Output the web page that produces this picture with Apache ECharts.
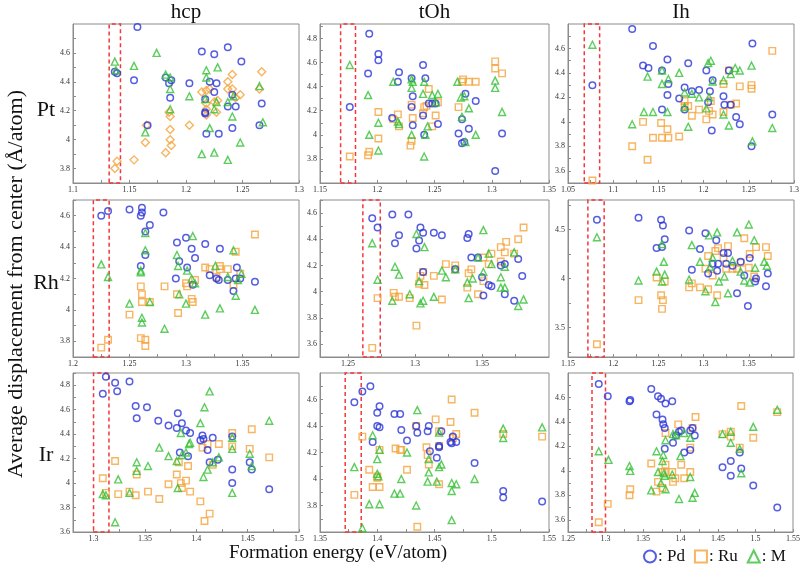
<!DOCTYPE html>
<html><head><meta charset="utf-8">
<script src="https://cdn.jsdelivr.net/npm/echarts@6/dist/echarts.min.js"></script>
<style>html,body{margin:0;padding:0;background:#fff}#c{width:803px;height:574px}</style>
</head><body><div id="c"></div>
<script>
// ---------------- DATA ----------------
const rowNames = ['Pt', 'Rh', 'Ir'];
const colNames = ['hcp', 'tOh', 'Ih'];
const legendNames = ['Pd', 'Ru', 'M'];

// x/y axis ranges [min,max] per panel
const xRange_Pt_hcp = [1.1, 1.3],  yRange_Pt_hcp = [3.7, 4.8];
const xRange_Pt_tOh = [1.15, 1.35], yRange_Pt_tOh = [3.6, 4.92];
const xRange_Pt_Ih  = [1.05, 1.3], yRange_Pt_Ih  = [3.5, 4.8];
const xRange_Rh_hcp = [1.2, 1.4],  yRange_Rh_hcp = [3.7, 4.7];
const xRange_Rh_tOh = [1.229, 1.4], yRange_Rh_tOh = [3.5, 4.7];
const xRange_Rh_Ih  = [1.15, 1.4], yRange_Rh_Ih  = [3.2, 4.8];
const xRange_Ir_hcp = [1.28, 1.5], yRange_Ir_hcp = [3.6, 4.9];
const xRange_Ir_tOh = [1.35, 1.55], yRange_Ir_tOh = [3.6, 4.8];
const xRange_Ir_Ih  = [1.25, 1.55], yRange_Ir_Ih  = [3.5, 4.8];

// tick labels
const xTicks_Pt_hcp = [1.1, 1.15, 1.2, 1.25, 1.3];
const yTicks_Pt_hcp = [3.8, 4, 4.2, 4.4, 4.6];
const xTicks_Pt_tOh = [1.15, 1.2, 1.25, 1.3, 1.35];
const yTicks_Pt_tOh = [3.8, 4, 4.2, 4.4, 4.6, 4.8];
const xTicks_Pt_Ih  = [1.05, 1.1, 1.15, 1.2, 1.25, 1.3];
const yTicks_Pt_Ih  = [3.6, 3.8, 4, 4.2, 4.4, 4.6];
const xTicks_Rh_hcp = [1.2, 1.25, 1.3, 1.35];
const yTicks_Rh_hcp = [3.8, 4, 4.2, 4.4, 4.6];
const xTicks_Rh_tOh = [1.25, 1.3, 1.35];
const yTicks_Rh_tOh = [3.6, 3.8, 4, 4.2, 4.4, 4.6];
const xTicks_Rh_Ih  = [1.15, 1.2, 1.25, 1.3, 1.35];
const yTicks_Rh_Ih  = [3.5, 4, 4.5];
const xTicks_Ir_hcp = [1.3, 1.35, 1.4, 1.45, 1.5];
const yTicks_Ir_hcp = [3.6, 3.8, 4, 4.2, 4.4, 4.6, 4.8];
const xTicks_Ir_tOh = [1.35, 1.4, 1.45, 1.5, 1.55];
const yTicks_Ir_tOh = [3.8, 4, 4.2, 4.4, 4.6];
const xTicks_Ir_Ih  = [1.25, 1.3, 1.35, 1.4, 1.45, 1.5, 1.55];
const yTicks_Ir_Ih  = [3.6, 3.8, 4, 4.2, 4.4, 4.6];

// red dashed bands [x0, x1]
const band_Pt_hcp = [1.132, 1.142];
const band_Pt_tOh = [1.168, 1.181];
const band_Pt_Ih  = [1.068, 1.085];
const band_Rh_hcp = [1.218, 1.232];
const band_Rh_tOh = [1.261, 1.274];
const band_Rh_Ih  = [1.172, 1.19];
const band_Ir_hcp = [1.3, 1.315];
const band_Ir_tOh = [1.372, 1.386];
const band_Ir_Ih  = [1.282, 1.3];

// ---- Pt / hcp ----
const Pt_hcp_Pd = [[1.157,4.78],[1.137,4.47],[1.139,4.46],[1.154,4.41],[1.166,4.10],[1.182,4.43],[1.185,4.39],[1.187,4.41],[1.186,4.29],[1.203,4.39],[1.214,4.61],[1.217,4.28],[1.217,4.19],[1.217,4.18],[1.218,4.04],[1.221,4.40],[1.225,4.59],[1.225,4.33],[1.227,4.39],[1.229,4.04],[1.237,4.64],[1.237,4.23],[1.241,4.31],[1.241,4.08],[1.244,4.23],[1.249,4.54],[1.265,4.10],[1.267,4.25]];
const Pt_hcp_Ru = [[1.139,3.85],[1.137,3.80],[1.154,3.86],[1.164,3.98],[1.165,4.10],[1.182,3.91],[1.185,4.19],[1.186,4.16],[1.186,4.07],[1.186,4.00],[1.187,3.96],[1.203,4.10],[1.214,4.33],[1.218,4.34],[1.221,4.35],[1.218,4.25],[1.218,4.21],[1.218,4.17],[1.225,4.26],[1.227,4.19],[1.228,4.27],[1.237,4.40],[1.237,4.35],[1.241,4.45],[1.241,4.35],[1.244,4.29],[1.248,4.31],[1.265,4.35],[1.267,4.47]];
const Pt_hcp_M  = [[1.137,4.54],[1.138,4.48],[1.154,4.51],[1.174,4.60],[1.164,4.05],[1.182,4.45],[1.186,4.43],[1.186,4.35],[1.186,4.21],[1.203,4.30],[1.214,3.90],[1.218,4.48],[1.218,4.43],[1.217,4.28],[1.221,4.08],[1.225,3.91],[1.225,4.21],[1.227,4.26],[1.228,4.50],[1.237,4.26],[1.237,3.86],[1.241,4.16],[1.242,4.30],[1.248,3.98],[1.265,4.37],[1.268,4.12]];

// ---- Pt / tOh ----
const Pt_tOh_Pd = [[1.193,4.84],[1.192,4.51],[1.201,4.67],[1.201,4.62],[1.176,4.23],[1.213,4.14],[1.218,4.44],[1.219,4.52],[1.230,4.47],[1.231,4.32],[1.230,4.23],[1.231,4.08],[1.240,4.58],[1.242,4.47],[1.240,4.16],[1.241,4.00],[1.245,4.26],[1.248,4.26],[1.251,4.26],[1.253,4.09],[1.271,4.01],[1.274,4.13],[1.274,3.93],[1.276,3.94],[1.277,4.34],[1.280,4.05],[1.286,4.28],[1.303,3.70],[1.309,4.01]];
const Pt_tOh_Ru = [[1.176,3.82],[1.192,3.83],[1.193,3.86],[1.201,4.19],[1.201,3.97],[1.214,4.13],[1.218,4.17],[1.219,4.07],[1.230,4.25],[1.231,4.14],[1.230,3.95],[1.229,3.91],[1.240,4.18],[1.241,4.23],[1.243,4.24],[1.245,4.38],[1.248,4.07],[1.251,4.16],[1.253,4.27],[1.271,4.23],[1.274,4.44],[1.275,4.46],[1.280,4.44],[1.286,4.44],[1.303,4.61],[1.303,4.55],[1.309,4.51]];
const Pt_tOh_M  = [[1.176,4.58],[1.192,4.33],[1.193,4.00],[1.201,4.10],[1.201,3.87],[1.214,4.44],[1.218,4.11],[1.219,4.09],[1.230,4.46],[1.230,4.39],[1.231,4.44],[1.230,4.00],[1.241,4.44],[1.241,3.82],[1.240,4.34],[1.242,4.00],[1.244,4.07],[1.248,4.33],[1.253,4.34],[1.251,4.27],[1.270,4.44],[1.273,4.31],[1.276,4.32],[1.274,4.15],[1.277,3.94],[1.280,4.22],[1.286,4.00],[1.303,4.45],[1.303,4.39],[1.309,4.19]];

// ---- Pt / Ih ----
const Pt_Ih_Pd = [[1.121,4.76],[1.144,4.62],[1.133,4.46],[1.139,4.44],[1.077,4.30],[1.154,4.42],[1.160,4.51],[1.161,4.31],[1.160,4.22],[1.154,4.10],[1.183,4.48],[1.173,4.19],[1.179,4.28],[1.179,4.10],[1.187,4.25],[1.195,4.26],[1.203,4.42],[1.205,4.16],[1.207,4.25],[1.210,4.34],[1.209,3.93],[1.222,4.21],[1.223,4.14],[1.228,4.42],[1.230,4.14],[1.236,4.04],[1.240,3.98],[1.254,4.64],[1.253,3.80],[1.276,4.06]];
const Pt_Ih_Ru = [[1.077,3.52],[1.121,3.80],[1.133,4.00],[1.138,3.69],[1.144,3.87],[1.153,3.99],[1.154,3.87],[1.160,3.94],[1.161,3.87],[1.173,3.88],[1.179,4.17],[1.179,4.13],[1.183,4.13],[1.187,4.05],[1.195,4.10],[1.203,4.02],[1.206,4.09],[1.208,4.17],[1.210,4.06],[1.222,4.31],[1.222,4.08],[1.228,4.42],[1.230,4.14],[1.236,4.15],[1.240,4.29],[1.253,4.30],[1.253,4.27],[1.276,4.58]];
const Pt_Ih_M  = [[1.077,4.63],[1.121,3.98],[1.134,4.08],[1.138,4.37],[1.144,4.08],[1.154,4.42],[1.154,4.31],[1.161,4.35],[1.160,4.08],[1.173,4.40],[1.179,4.24],[1.179,4.12],[1.183,3.96],[1.187,4.23],[1.195,4.20],[1.203,4.11],[1.205,4.48],[1.208,4.50],[1.206,4.20],[1.210,4.33],[1.222,4.34],[1.222,4.06],[1.228,3.97],[1.230,4.39],[1.235,4.44],[1.240,4.42],[1.253,4.46],[1.254,3.84],[1.276,3.95]];

// ---- Rh / hcp ----
const Rh_hcp_Pd = [[1.225,4.60],[1.231,4.63],[1.250,4.64],[1.261,4.65],[1.261,4.62],[1.260,4.60],[1.280,4.62],[1.268,4.54],[1.264,4.50],[1.264,4.35],[1.260,4.28],[1.292,4.43],[1.300,4.46],[1.305,4.39],[1.294,4.31],[1.308,4.33],[1.301,4.27],[1.291,4.20],[1.306,4.16],[1.317,4.42],[1.330,4.39],[1.321,4.22],[1.327,4.20],[1.329,4.19],[1.337,4.19],[1.342,4.12],[1.345,4.27],[1.344,4.20],[1.348,4.20],[1.361,4.18]];
const Rh_hcp_Ru = [[1.225,3.76],[1.231,3.81],[1.250,3.97],[1.260,4.15],[1.261,4.10],[1.261,4.05],[1.260,3.82],[1.264,3.81],[1.264,3.77],[1.268,4.05],[1.281,4.15],[1.292,4.10],[1.293,3.98],[1.300,4.17],[1.301,4.15],[1.305,4.07],[1.306,4.05],[1.308,4.19],[1.317,4.27],[1.321,4.26],[1.327,4.21],[1.330,4.28],[1.330,4.26],[1.337,4.26],[1.342,4.16],[1.344,4.37],[1.348,4.23],[1.361,4.48]];
const Rh_hcp_M  = [[1.225,4.29],[1.231,4.21],[1.250,4.04],[1.260,4.24],[1.260,4.25],[1.261,3.95],[1.261,3.92],[1.264,4.38],[1.264,4.49],[1.268,4.05],[1.281,3.88],[1.292,4.35],[1.293,4.28],[1.294,4.10],[1.300,4.04],[1.301,4.25],[1.305,4.20],[1.308,4.17],[1.306,4.47],[1.317,3.97],[1.326,4.28],[1.330,4.01],[1.337,4.21],[1.342,4.38],[1.344,4.09],[1.346,4.19],[1.349,4.23],[1.361,4.00]];

// ---- Rh / tOh ----
const Rh_tOh_Pd = [[1.268,4.56],[1.272,4.49],[1.283,4.59],[1.295,4.59],[1.288,4.43],[1.285,4.37],[1.304,4.49],[1.306,4.45],[1.303,4.39],[1.301,4.33],[1.314,4.45],[1.320,4.43],[1.306,4.15],[1.330,4.17],[1.339,4.41],[1.340,4.44],[1.342,4.26],[1.347,4.26],[1.350,4.11],[1.351,3.97],[1.355,4.05],[1.357,4.04],[1.364,4.20],[1.367,4.21],[1.367,3.98],[1.374,3.93],[1.377,4.25],[1.380,4.12]];
const Rh_tOh_Ru = [[1.268,3.57],[1.272,3.95],[1.284,3.99],[1.285,3.96],[1.288,3.96],[1.296,3.95],[1.301,3.74],[1.303,4.06],[1.304,4.12],[1.306,4.15],[1.307,4.05],[1.314,4.12],[1.320,3.94],[1.323,4.21],[1.330,4.20],[1.330,4.17],[1.339,4.03],[1.340,4.14],[1.342,4.17],[1.347,3.98],[1.351,4.26],[1.351,4.08],[1.355,4.21],[1.357,4.29],[1.364,4.34],[1.364,4.23],[1.367,4.30],[1.368,4.38],[1.374,4.29],[1.377,4.40],[1.381,4.49]];
const Rh_tOh_M  = [[1.268,4.37],[1.272,4.09],[1.283,3.93],[1.285,4.19],[1.288,4.13],[1.296,3.98],[1.301,4.44],[1.307,4.34],[1.303,4.08],[1.304,3.91],[1.306,3.93],[1.314,3.96],[1.320,4.16],[1.323,4.11],[1.330,4.17],[1.339,4.07],[1.343,4.10],[1.340,3.95],[1.347,4.26],[1.351,4.47],[1.351,4.15],[1.355,4.29],[1.357,4.21],[1.364,4.11],[1.364,4.03],[1.367,4.03],[1.367,4.19],[1.374,4.30],[1.377,3.89],[1.381,3.94]];

// ---- Rh / Ih ----
const Rh_Ih_Pd = [[1.182,4.60],[1.228,4.62],[1.253,4.60],[1.255,4.54],[1.257,4.40],[1.248,4.31],[1.254,4.32],[1.284,4.49],[1.302,4.46],[1.314,4.39],[1.296,4.30],[1.287,4.09],[1.322,4.26],[1.327,4.26],[1.310,4.15],[1.316,4.15],[1.325,4.15],[1.332,4.13],[1.315,4.08],[1.305,4.05],[1.341,4.17],[1.351,4.21],[1.345,4.03],[1.337,3.85],[1.349,3.72],[1.357,3.97],[1.358,4.00],[1.369,3.92],[1.371,4.05]];
const Rh_Ih_Ru = [[1.182,3.33],[1.228,3.78],[1.248,4.01],[1.253,3.83],[1.255,3.78],[1.257,3.97],[1.254,3.69],[1.284,3.91],[1.287,3.95],[1.296,3.91],[1.302,4.10],[1.305,3.89],[1.305,4.23],[1.310,4.03],[1.313,4.28],[1.315,3.83],[1.316,4.31],[1.322,4.21],[1.325,4.10],[1.327,4.33],[1.332,4.10],[1.337,4.10],[1.341,4.16],[1.345,4.41],[1.351,4.25],[1.350,4.11],[1.356,4.02],[1.358,4.32],[1.369,4.32],[1.371,4.23]];
const Rh_Ih_M  = [[1.182,4.42],[1.228,3.98],[1.248,4.07],[1.254,4.35],[1.256,4.17],[1.257,4.04],[1.254,3.97],[1.284,3.99],[1.287,4.34],[1.296,4.17],[1.302,3.87],[1.306,4.44],[1.310,4.21],[1.307,4.12],[1.315,4.47],[1.317,3.97],[1.313,3.76],[1.323,4.02],[1.327,3.85],[1.332,4.18],[1.337,4.47],[1.341,4.07],[1.345,3.98],[1.350,4.55],[1.351,3.96],[1.356,4.39],[1.357,4.11],[1.367,4.17],[1.370,4.13]];

// ---- Ir / hcp ----
const Ir_hcp_Pd = [[1.309,4.73],[1.312,4.87],[1.321,4.82],[1.323,4.75],[1.335,4.83],[1.341,4.63],[1.352,4.62],[1.342,4.53],[1.363,4.51],[1.373,4.47],[1.382,4.57],[1.381,4.45],[1.386,4.49],[1.390,4.43],[1.394,4.41],[1.384,4.25],[1.392,4.22],[1.406,4.39],[1.404,4.35],[1.407,4.36],[1.416,4.37],[1.411,4.27],[1.413,4.17],[1.421,4.19],[1.435,4.38],[1.435,4.11],[1.435,4.00],[1.452,4.17],[1.454,4.11],[1.471,3.95]];
const Ir_hcp_Ru = [[1.309,4.04],[1.312,3.92],[1.321,4.18],[1.324,3.91],[1.335,3.93],[1.341,3.90],[1.342,4.07],[1.353,3.93],[1.364,3.87],[1.373,3.99],[1.381,4.07],[1.383,4.17],[1.385,4.00],[1.386,3.96],[1.390,4.02],[1.392,4.14],[1.394,3.93],[1.404,3.85],[1.406,4.29],[1.408,3.69],[1.411,4.32],[1.413,3.75],[1.416,4.15],[1.422,4.32],[1.435,4.41],[1.435,4.30],[1.452,4.28],[1.454,4.44],[1.471,4.21]];
const Ir_hcp_M  = [[1.309,3.91],[1.312,3.90],[1.324,4.03],[1.321,3.68],[1.335,3.92],[1.342,4.17],[1.342,4.10],[1.353,4.14],[1.364,4.29],[1.373,4.22],[1.381,4.18],[1.382,3.96],[1.385,4.41],[1.386,4.23],[1.390,4.25],[1.393,4.32],[1.394,4.33],[1.404,4.49],[1.407,4.05],[1.408,4.62],[1.411,4.11],[1.413,4.75],[1.416,4.17],[1.422,4.21],[1.435,4.37],[1.435,4.28],[1.435,3.92],[1.452,4.24],[1.454,4.14],[1.471,4.51]];

// ---- Ir / tOh ----
const Ir_tOh_Pd = [[1.380,4.58],[1.387,4.66],[1.394,4.70],[1.400,4.50],[1.402,4.55],[1.400,4.40],[1.402,4.39],[1.396,4.28],[1.415,4.49],[1.420,4.49],[1.421,4.37],[1.426,4.29],[1.434,4.40],[1.435,4.35],[1.444,4.36],[1.445,4.40],[1.446,4.21],[1.452,4.16],[1.454,4.25],[1.454,4.24],[1.456,4.36],[1.464,4.28],[1.465,4.27],[1.466,4.32],[1.469,4.28],[1.485,4.12],[1.510,3.91],[1.510,3.86],[1.544,3.83]];
const Ir_tOh_Ru = [[1.380,3.88],[1.387,4.32],[1.393,4.07],[1.396,3.94],[1.400,4.02],[1.400,4.01],[1.402,3.94],[1.402,4.22],[1.416,4.23],[1.420,4.22],[1.421,4.22],[1.426,4.07],[1.434,4.40],[1.435,3.64],[1.443,4.24],[1.444,4.18],[1.445,4.11],[1.451,4.45],[1.454,4.36],[1.454,4.25],[1.454,3.96],[1.464,4.43],[1.465,4.60],[1.466,4.31],[1.469,4.34],[1.485,4.50],[1.510,4.34],[1.544,4.32]];
const Ir_tOh_M  = [[1.380,4.09],[1.387,3.63],[1.393,3.81],[1.396,4.33],[1.400,4.15],[1.400,4.04],[1.402,4.22],[1.402,3.81],[1.401,4.02],[1.415,3.89],[1.420,3.89],[1.421,4.00],[1.426,4.20],[1.434,3.80],[1.435,4.52],[1.444,3.98],[1.445,4.05],[1.445,4.15],[1.452,3.98],[1.454,4.09],[1.454,4.35],[1.456,4.11],[1.465,3.97],[1.465,3.91],[1.465,3.69],[1.469,3.96],[1.485,4.00],[1.510,4.38],[1.510,4.31],[1.544,4.39]];

// ---- Ir / Ih ----
const Ir_Ih_Pd = [[1.291,4.71],[1.303,4.61],[1.333,4.58],[1.332,4.57],[1.361,4.67],[1.370,4.61],[1.374,4.59],[1.380,4.55],[1.389,4.57],[1.368,4.46],[1.376,4.42],[1.377,4.38],[1.379,4.35],[1.379,4.18],[1.390,4.23],[1.394,4.29],[1.398,4.32],[1.401,4.33],[1.405,4.15],[1.413,4.33],[1.416,4.35],[1.419,4.29],[1.413,4.17],[1.456,4.03],[1.467,4.08],[1.467,3.96],[1.479,4.15],[1.481,4.02],[1.497,3.88],[1.529,3.70]];
const Ir_Ih_Ru = [[1.291,3.58],[1.303,3.73],[1.332,3.80],[1.333,3.85],[1.361,4.06],[1.368,3.83],[1.370,3.91],[1.376,3.99],[1.376,3.86],[1.379,3.99],[1.380,4.05],[1.380,4.31],[1.389,3.99],[1.390,3.91],[1.393,3.94],[1.397,4.38],[1.401,4.05],[1.405,3.94],[1.413,4.19],[1.413,3.99],[1.416,4.35],[1.420,4.44],[1.456,4.30],[1.467,4.32],[1.467,4.28],[1.479,4.19],[1.481,4.53],[1.497,4.27],[1.529,4.48]];
const Ir_Ih_M  = [[1.291,4.16],[1.304,4.09],[1.332,4.04],[1.333,4.00],[1.361,3.84],[1.368,4.16],[1.370,3.99],[1.374,3.90],[1.377,4.13],[1.376,4.08],[1.380,4.25],[1.378,3.98],[1.379,3.96],[1.380,3.85],[1.389,3.97],[1.390,4.30],[1.394,4.29],[1.398,3.77],[1.400,4.12],[1.405,4.31],[1.413,4.27],[1.413,3.95],[1.416,3.78],[1.419,3.82],[1.456,4.30],[1.467,4.32],[1.467,4.23],[1.479,4.18],[1.481,3.98],[1.497,4.36],[1.529,4.50]];

// ---------------- LAYOUT / STYLE ----------------
const FONT = '"Liberation Serif","DejaVu Serif",serif';
const COL_BLUE = '#2a35d8', COL_ORANGE = '#f5a33a', COL_GREEN = '#35c035', COL_RED = '#f2383c';
const colBox = [[73, 226], [320, 229], [568, 226]];
const rowBox = [[24, 159], [200, 157], [373, 159]];

const panels = [
  {r:0,c:0,xr:xRange_Pt_hcp,yr:yRange_Pt_hcp,xt:xTicks_Pt_hcp,yt:yTicks_Pt_hcp,band:band_Pt_hcp,Pd:Pt_hcp_Pd,Ru:Pt_hcp_Ru,M:Pt_hcp_M,ruSym:'diamond'},
  {r:0,c:1,xr:xRange_Pt_tOh,yr:yRange_Pt_tOh,xt:xTicks_Pt_tOh,yt:yTicks_Pt_tOh,band:band_Pt_tOh,Pd:Pt_tOh_Pd,Ru:Pt_tOh_Ru,M:Pt_tOh_M},
  {r:0,c:2,xr:xRange_Pt_Ih, yr:yRange_Pt_Ih, xt:xTicks_Pt_Ih, yt:yTicks_Pt_Ih, band:band_Pt_Ih, Pd:Pt_Ih_Pd, Ru:Pt_Ih_Ru, M:Pt_Ih_M},
  {r:1,c:0,xr:xRange_Rh_hcp,yr:yRange_Rh_hcp,xt:xTicks_Rh_hcp,yt:yTicks_Rh_hcp,band:band_Rh_hcp,Pd:Rh_hcp_Pd,Ru:Rh_hcp_Ru,M:Rh_hcp_M},
  {r:1,c:1,xr:xRange_Rh_tOh,yr:yRange_Rh_tOh,xt:xTicks_Rh_tOh,yt:yTicks_Rh_tOh,band:band_Rh_tOh,Pd:Rh_tOh_Pd,Ru:Rh_tOh_Ru,M:Rh_tOh_M},
  {r:1,c:2,xr:xRange_Rh_Ih, yr:yRange_Rh_Ih, xt:xTicks_Rh_Ih, yt:yTicks_Rh_Ih, band:band_Rh_Ih, Pd:Rh_Ih_Pd, Ru:Rh_Ih_Ru, M:Rh_Ih_M},
  {r:2,c:0,xr:xRange_Ir_hcp,yr:yRange_Ir_hcp,xt:xTicks_Ir_hcp,yt:yTicks_Ir_hcp,band:band_Ir_hcp,Pd:Ir_hcp_Pd,Ru:Ir_hcp_Ru,M:Ir_hcp_M},
  {r:2,c:1,xr:xRange_Ir_tOh,yr:yRange_Ir_tOh,xt:xTicks_Ir_tOh,yt:yTicks_Ir_tOh,band:band_Ir_tOh,Pd:Ir_tOh_Pd,Ru:Ir_tOh_Ru,M:Ir_tOh_M},
  {r:2,c:2,xr:xRange_Ir_Ih, yr:yRange_Ir_Ih, xt:xTicks_Ir_Ih, yt:yTicks_Ir_Ih, band:band_Ir_Ih, Pd:Ir_Ih_Pd, Ru:Ir_Ih_Ru, M:Ir_Ih_M}
];

function withMinor(ticks, lo, hi) {
  const out = ticks.slice();
  const step = ticks.length > 1 ? ticks[1] - ticks[0] : 0.1;
  const first = ticks[0] - step / 2;
  for (let v = first; v <= hi + 1e-9; v += step) {
    if (v >= lo - 1e-9) out.push(+v.toFixed(4));
  }
  return out.filter(v => v >= lo - 1e-9 && v <= hi + 1e-9);
}
const fmt = v => String(+(+v).toFixed(3));

const grids = [], xAxes = [], yAxes = [], series = [];
panels.forEach((p, i) => {
  grids.push({left: colBox[p.c][0], width: colBox[p.c][1], top: rowBox[p.r][0], height: rowBox[p.r][1],
    show: true, borderColor: '#8c8c8c', borderWidth: 1, backgroundColor: 'transparent'});
  const axCommon = {
    axisLine: {show: true, onZero: false, lineStyle: {color: '#8c8c8c', width: 1}},
    splitLine: {show: false},
    axisLabel: {fontFamily: FONT, fontSize: 8, color: '#333', margin: 3, formatter: fmt, showMinLabel: true, showMaxLabel: true},
  };
  xAxes.push(Object.assign({}, axCommon, {
    type: 'value', gridIndex: i, min: p.xr[0], max: p.xr[1],
    axisLabel: Object.assign({}, axCommon.axisLabel, {customValues: p.xt}),
    axisTick: {show: true, inside: true, length: 3, lineStyle: {color: '#8c8c8c'}, customValues: withMinor(p.xt, p.xr[0], p.xr[1])}
  }));
  yAxes.push(Object.assign({}, axCommon, {
    type: 'value', gridIndex: i, min: p.yr[0], max: p.yr[1],
    axisLabel: Object.assign({}, axCommon.axisLabel, {customValues: p.yt}),
    axisTick: {show: true, inside: true, length: 3, lineStyle: {color: '#8c8c8c'}, customValues: withMinor(p.yt, p.yr[0], p.yr[1])}
  }));
  const base = {type: 'scatter', xAxisIndex: i, yAxisIndex: i, silent: true, animation: false};
  series.push(Object.assign({}, base, {
    name: 'Ru', data: p.Ru, symbol: p.ruSym || 'rect', symbolSize: p.ruSym ? 8 : 6.5,
    itemStyle: {color: 'rgba(0,0,0,0)', borderColor: COL_ORANGE, borderWidth: 1.4}
  }));
  series.push(Object.assign({}, base, {
    name: 'Pd', data: p.Pd, symbol: 'circle', symbolSize: 6.5,
    itemStyle: {color: 'rgba(0,0,0,0)', borderColor: COL_BLUE, borderWidth: 1.5},
    markArea: {silent: true, itemStyle: {color: 'rgba(0,0,0,0)', borderColor: COL_RED, borderWidth: 1.5, borderType: [4, 3]},
      data: [[{xAxis: p.band[0], yAxis: p.yr[0]}, {xAxis: p.band[1], yAxis: p.yr[1]}]]}
  }));
  series.push(Object.assign({}, base, {
    name: 'M', data: p.M, symbol: 'triangle', symbolSize: 7,
    itemStyle: {color: 'rgba(0,0,0,0)', borderColor: COL_GREEN, borderWidth: 1.4}
  }));
});

const graphics = [];
colNames.forEach((t, c) => graphics.push({type: 'text', x: colBox[c][0] + colBox[c][1] / 2, y: 12,
  style: {text: t, font: '21px ' + FONT, fill: '#111', textAlign: 'center', textVerticalAlign: 'middle'}}));
const rowY = [110, 283, 455];
rowNames.forEach((t, r) => graphics.push({type: 'text', x: 46, y: rowY[r],
  style: {text: t, font: '22px ' + FONT, fill: '#111', textAlign: 'center', textVerticalAlign: 'middle'}}));
graphics.push({type: 'text', x: 16, y: 284, rotation: Math.PI / 2,
  style: {text: 'Average displacement from center (Å/atom)', font: '22px ' + FONT, fill: '#111', textAlign: 'center', textVerticalAlign: 'middle'}});
graphics.push({type: 'text', x: 338, y: 553,
  style: {text: 'Formation energy (eV/atom)', font: '19px ' + FONT, fill: '#111', textAlign: 'center', textVerticalAlign: 'middle'}});

const chart = echarts.init(document.getElementById('c'), null, {renderer: 'canvas'});
chart.setOption({
  animation: false,
  backgroundColor: '#fff',
  grid: grids, xAxis: xAxes, yAxis: yAxes, series: series,
  graphic: graphics,
  legend: {
    left: 638, top: 543, itemWidth: 12, itemHeight: 12, itemGap: 9, selectedMode: false,
    formatter: ': {name}', textStyle: {fontFamily: FONT, fontSize: 17, color: '#111', padding: [0, 0, 0, -3]},
    data: [
      {name: legendNames[0], icon: 'circle', itemStyle: {color: 'rgba(0,0,0,0)', borderColor: COL_BLUE, borderWidth: 2}},
      {name: legendNames[1], icon: 'rect', itemStyle: {color: 'rgba(0,0,0,0)', borderColor: COL_ORANGE, borderWidth: 2}},
      {name: legendNames[2], icon: 'triangle', itemStyle: {color: 'rgba(0,0,0,0)', borderColor: COL_GREEN, borderWidth: 2}}
    ]
  }
});
</script></body></html>
